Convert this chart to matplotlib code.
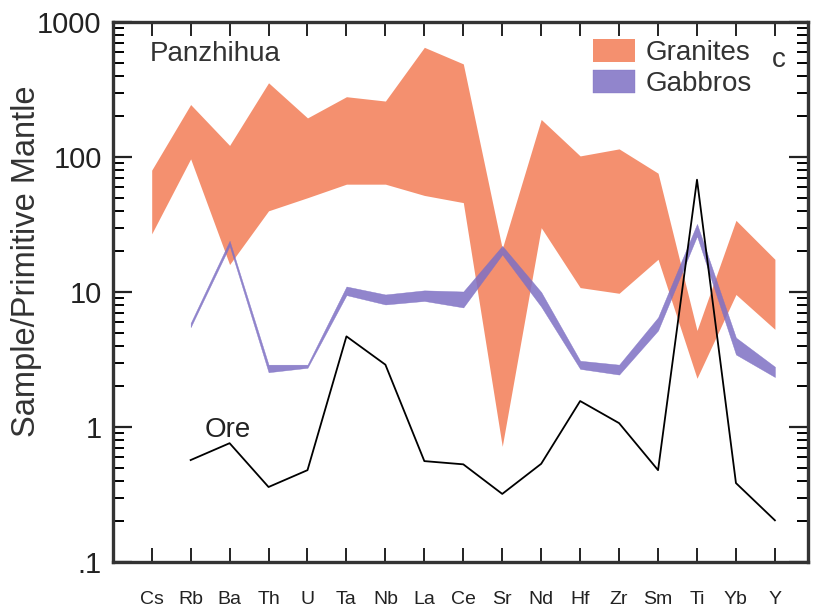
import matplotlib
matplotlib.use('Agg')
import matplotlib.pyplot as plt
import numpy as np
from matplotlib.ticker import LogLocator, FixedLocator, FixedFormatter, NullFormatter

plt.rcParams['font.family'] = ['Liberation Sans', 'DejaVu Sans']

elementos = ['Cs', 'Rb', 'Ba', 'Th', 'U', 'Ta', 'Nb', 'La', 'Ce', 'Sr',
             'Nd', 'Hf', 'Zr', 'Sm', 'Ti', 'Yb', 'Y']

# Granitos (limite superior / inferior)
gran_sup = [80, 245, 122, 355, 195, 280, 260, 650, 490, 21, 190, 102, 115, 76, 5.2, 34, 17.5]
gran_inf = [27, 97, 16, 40, 50, 63, 63, 52, 46, 0.72, 30, 10.8, 9.8, 17.5, 2.3, 9.6, 5.3]

# Gabros (desde Rb)
gab_elem = elementos[1:]
gab_sup = [5.9, 24, 2.9, 2.9, 11.0, 9.6, 10.3, 10.1, 22, 10, 3.1, 2.9, 6.5, 32, 4.6, 2.8]
gab_inf = [5.5, 22, 2.55, 2.75, 9.5, 8.1, 8.6, 7.7, 19, 7.8, 2.7, 2.45, 5.2, 26, 3.45, 2.35]

# Mena (desde Rb)
ore_elem = elementos[1:]
ore = [0.57, 0.76, 0.36, 0.48, 4.7, 2.9, 0.56, 0.53, 0.32, 0.535, 1.56, 1.07, 0.48, 68, 0.385, 0.204]

x = np.arange(len(elementos))
xg = np.array([elementos.index(e) for e in gab_elem])
xo = np.array([elementos.index(e) for e in ore_elem])

fig = plt.figure(figsize=(8.17, 6.13), dpi=100)
ax = fig.add_axes([0.138, 0.083, 0.851, 0.881])

ax.fill_between(x, gran_inf, gran_sup, color='#F4906F', linewidth=0, label='Granites')
ax.fill_between(xg, gab_inf, gab_sup, color='#7E70C4', alpha=0.85, linewidth=0.3,
                edgecolor='#7E70C4', label='Gabbros')
ax.plot(xo, ore, color='black', linewidth=1.3)

ax.set_yscale('log')
ax.set_ylim(0.1, 1000)
ax.set_xlim(-1, 16.85)

ax.yaxis.set_major_locator(FixedLocator([0.1, 1, 10, 100, 1000]))
ax.yaxis.set_major_formatter(FixedFormatter(['.1', '1', '10', '100', '1000']))
ax.yaxis.set_minor_locator(LogLocator(base=10, subs=np.arange(2, 10)))
ax.yaxis.set_minor_formatter(NullFormatter())
ax.set_xticks(x)
ax.set_xticklabels(elementos)

ax.tick_params(axis='y', which='major', direction='in', length=14, width=1.6,
               left=True, right=True, labelsize=21, pad=8, colors='#222222')
ax.tick_params(axis='y', which='minor', direction='in', length=8, width=1.4,
               left=True, right=True)
ax.tick_params(axis='x', which='major', direction='in', length=10, width=1.4,
               top=True, bottom=True, labelsize=14, pad=21, colors='#222222')
ax.tick_params(axis='x', which='minor', bottom=False, top=False)

for s in ax.spines.values():
    s.set_linewidth(2.4)
    s.set_color('#333333')

fig.text(27 / 817, 1 - 261 / 613, 'Sample/Primitive Mantle', fontsize=23.5,
         color='#333333', rotation=90, ha='center', va='center')

ax.text(-0.05, 580, 'Panzhihua', fontsize=20, color='#333333', va='center')
ax.text(16.1, 525, 'c', fontsize=20, color='#333333', va='center', ha='center')
ax.text(1.35, 0.95, 'Ore', fontsize=20, color='#222222', va='center')

leg = ax.legend(loc='upper left', bbox_to_anchor=(0.691, 0.968), frameon=False,
                fontsize=20, handlelength=1.5, handleheight=0.86, handletextpad=0.4,
                labelspacing=0.15, borderpad=0, borderaxespad=0,
                labelcolor='#333333')

plt.savefig('out.png', dpi=100)
